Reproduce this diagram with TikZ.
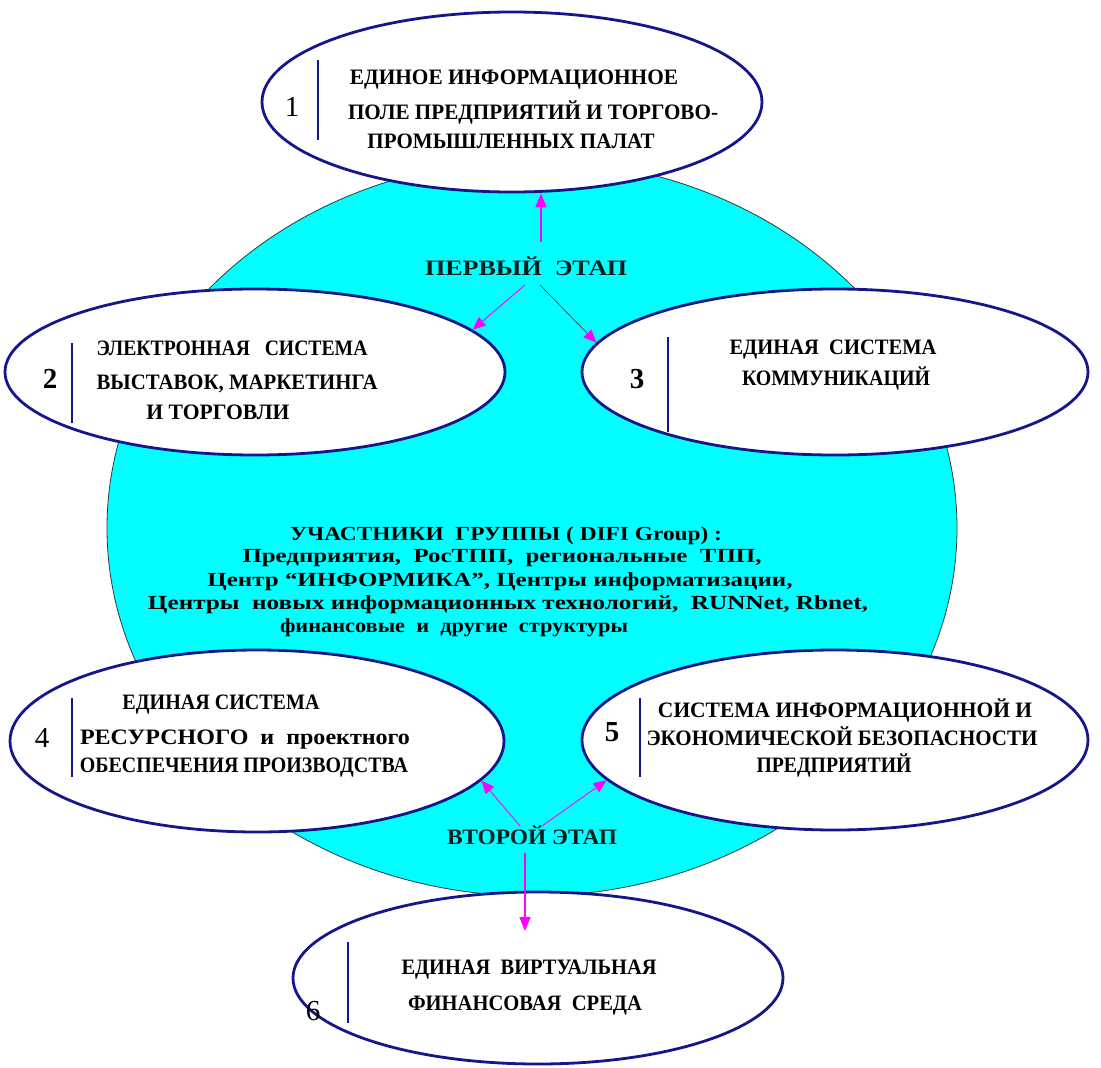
\documentclass[tikz,border=0pt]{standalone}
\usepackage{fontspec}
\usepackage{graphicx}
\setmainfont{Liberation Serif}
\usetikzlibrary{shapes.geometric,arrows.meta}
\definecolor{navy}{RGB}{22,22,140}
\definecolor{cyanf}{RGB}{0,255,255}
\definecolor{mag}{RGB}{255,0,255}
\definecolor{dline}{RGB}{40,60,60}
\newcommand\fw[2]{\resizebox{#1pt}{\height}{#2}}
\begin{document}
\begin{tikzpicture}[x=1pt,y=-1pt,
 ell/.style={ellipse, draw=navy, line width=2.8pt, fill=white, inner sep=0pt},
 bar/.style={draw=navy, line width=2.8pt},
 txt/.style={font=\bfseries\fontsize{22}{24}\selectfont, inner sep=0pt, anchor=base, text=black},
 ctr/.style={font=\bfseries\fontsize{20}{22}\selectfont, inner sep=0pt, anchor=base, text=black},
 stg/.style={font=\bfseries\fontsize{22}{24}\selectfont, inner sep=0pt, anchor=base, text={rgb,255:red,10;green,30;blue,30}},
 numb/.style={font=\bfseries\fontsize{29}{31}\selectfont, inner sep=0pt, anchor=base},
 numr/.style={font=\fontsize{29}{31}\selectfont, inner sep=0pt, anchor=base},
 arrV/.style={draw=mag, line width=1.6pt, -{Triangle[length=14pt,width=11pt]}},
 arrT/.style={draw=mag, line width=0.9pt, -{Triangle[length=13pt,width=11pt]}},
 arrD/.style={draw=dline, line width=0.6pt, -{Triangle[length=13pt,width=11pt,color=mag]}},
]
\useasboundingbox (0,0) rectangle (1101,1068);
\fill[white] (0,0) rectangle (1101,1068);

% central cyan field
\node[ellipse, minimum width=850pt, minimum height=736pt, fill=cyanf, draw=dline, line width=0.8pt, inner sep=0pt] (bg) at (532,528) {};

% white ellipses
\node[ell, minimum width=500pt, minimum height=180pt] (e1) at (512,102) {};
\node[ell, minimum width=500pt, minimum height=166pt] (e2) at (255,372) {};
\node[ell, minimum width=506pt, minimum height=166pt] (e3) at (835,372) {};
\node[ell, minimum width=494pt, minimum height=182pt] (e4) at (257,741) {};
\node[ell, minimum width=506pt, minimum height=180pt] (e5) at (835,740) {};
\node[ell, minimum width=490pt, minimum height=172pt] (e6) at (538,978) {};

% vertical bars
\draw[bar] (318,60) -- (318,140);
\draw[bar] (72,343) -- (72,423);
\draw[bar] (668,337) -- (668,432);
\draw[bar] (72,698) -- (72,777);
\draw[bar] (640,698) -- (640,777);
\draw[bar] (348,942) -- (348,1023);

% numbers
\node[numr] (n1) at (292,116) {1};
\node[numb] (n2) at (50,388) {2};
\node[numb] (n3) at (637,388) {3};
\node[numr] (n4) at (42,747) {4};
\node[numb] (n5) at (612,741) {5};
\node[numr] (n6) at (313,1020) {6};

% ellipse 1 text
\node[txt] (t1a) at (514,84) {\fw{328}{ЕДИНОЕ ИНФОРМАЦИОННОЕ}};
\node[txt] (t1b) at (533,119) {\fw{370}{ПОЛЕ ПРЕДПРИЯТИЙ И ТОРГОВО-}};
\node[txt] (t1c) at (511,148) {\fw{287}{ПРОМЫШЛЕННЫХ ПАЛАТ}};
% ellipse 2 text
\node[txt] (t2a) at (232,355) {\fw{271}{ЭЛЕКТРОННАЯ \ \ СИСТЕМА}};
\node[txt] (t2b) at (237,389) {\fw{281}{ВЫСТАВОК, МАРКЕТИНГА}};
\node[txt] (t2c) at (218,419) {\fw{143}{И ТОРГОВЛИ}};
% ellipse 3 text
\node[txt] (t3a) at (833,354) {\fw{207}{ЕДИНАЯ \ СИСТЕМА}};
\node[txt] (t3b) at (836,385) {\fw{188}{КОММУНИКАЦИЙ}};
% ellipse 4 text
\node[txt] (t4a) at (221,709) {\fw{197}{ЕДИНАЯ СИСТЕМА}};
\node[txt] (t4b) at (245,744) {\fw{330}{РЕСУРСНОГО \ и \ проектного}};
\node[txt] (t4c) at (244,772) {\fw{328}{ОБЕСПЕЧЕНИЯ ПРОИЗВОДСТВА}};
% ellipse 5 text
\node[txt] (t5a) at (845,717) {\fw{374}{СИСТЕМА ИНФОРМАЦИОННОЙ И}};
\node[txt] (t5b) at (842,745) {\fw{391}{ЭКОНОМИЧЕСКОЙ БЕЗОПАСНОСТИ}};
\node[txt] (t5c) at (834,772) {\fw{155}{ПРЕДПРИЯТИЙ}};
% ellipse 6 text
\node[txt] (t6a) at (529,974) {\fw{255}{ЕДИНАЯ \ ВИРТУАЛЬНАЯ}};
\node[txt] (t6b) at (525,1010) {\fw{234}{ФИНАНСОВАЯ \ СРЕДА}};

% central text
\node[ctr] (c1) at (506,540) {\fw{432}{УЧАСТНИКИ \ ГРУППЫ ( DIFI Group) :}};
\node[ctr] (c2) at (502,562) {\fw{519}{Предприятия, \ РосТПП, \ региональные \ ТПП,}};
\node[ctr] (c3) at (500,586) {\fw{585}{Центр “ИНФОРМИКА”, Центры информатизации,}};
\node[ctr] (c4) at (508,609) {\fw{720}{Центры \ новых информационных технологий, \ RUNNet, Rbnet,}};
\node[ctr] (c5) at (454,632) {\fw{348}{финансовые \ и \ другие \ структуры}};

% stage labels
\node[stg] (s1) at (526,275) {\fw{202}{ПЕРВЫЙ \ ЭТАП}};
\node[stg] (s2) at (532,844) {\fw{170}{ВТОРОЙ ЭТАП}};

% arrow start/end points
\coordinate (p1) at (541,242);
\coordinate (p2) at (525,285);
\coordinate (p3) at (540,285);
\coordinate (p4) at (520,826);
\coordinate (p5) at (542,826);
\coordinate (p6) at (525,853);
\coordinate (q6) at (525,931);

\draw[arrV] (p1) -- (p1 |- e1.south);
\draw[arrT] (p2) -- (e2.11);
\draw[arrD] (p3) -- (e3.173);
\draw[arrT] (p4) -- (e4.-10);
\draw[arrT] (p5) -- (e5.190);
\draw[arrV] (p6) -- (q6);
\end{tikzpicture}
\end{document}
